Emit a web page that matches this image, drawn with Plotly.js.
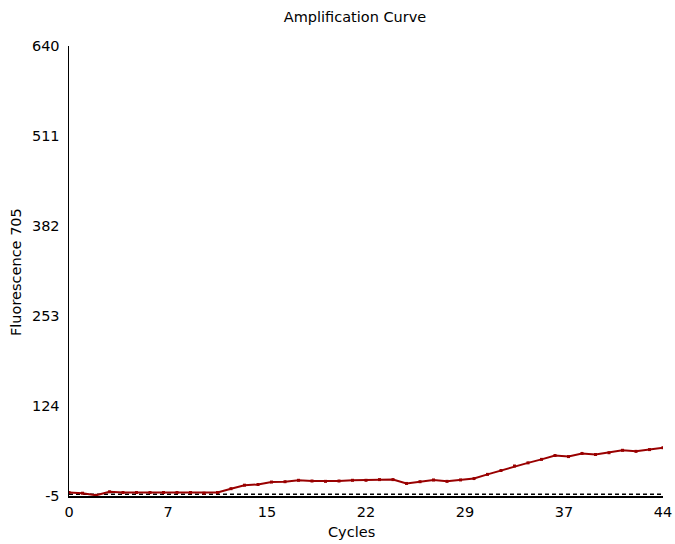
<!DOCTYPE html>
<html>
<head>
<meta charset="utf-8">
<script src="https://cdn.plot.ly/plotly-3.0.1.min.js"></script>
<style>html,body{margin:0;padding:0;background:#fff;}#chart{width:675px;height:544px;}</style>
</head>
<body>
<div id="chart"></div>
<script>
var cycles = [0,1,2,3,4,5,6,7,8,9,10,11,12,13,14,15,16,17,18,19,20,21,22,23,24,25,26,27,28,29,30,31,32,33,34,35,36,37,38,39,40,41,42,43,44];
var fluorescence = [0,-1,-4,1,0,0,0,0,0,0,-1,0,5.5,10.5,11.5,15,15.5,17.5,16.5,16,16.5,17.5,17.5,18.5,18.5,13,15.5,18,16,18,20,26,31.5,38,42.5,47.5,53,51.5,56,54.5,57,60.5,59,61.5,64];
var thresholdX = [0, 44];
var thresholdY = [-2.5, -2.5];
var xTickVals = [0, 7.3333, 14.6667, 22, 29.3333, 36.6667, 44];
var xTickText = ['0','7','15','22','29','37','44'];
var yTickVals = [-5, 124, 253, 382, 511, 640];
var yTickText = ['-5','124','253','382','511','640'];
var xRange = [0, 44];
var yRange = [-5, 640];

var fnt = {family: 'DejaVu Sans, Liberation Sans, sans-serif', size: 14.5, color: '#000'};

var traces = [
  {x: thresholdX, y: thresholdY, mode: 'lines', line: {color: '#000', width: 1.5, dash: '4px,3px'}, hoverinfo: 'skip', showlegend: false},
  {x: cycles, y: fluorescence, mode: 'lines+markers', line: {color: '#990000', width: 2}, marker: {symbol: 'square', size: 3, color: '#990000'}, showlegend: false}
];

var layout = {
  width: 675, height: 544,
  margin: {l: 69, r: 12, t: 46, b: 48},
  paper_bgcolor: '#fff', plot_bgcolor: '#fff',
  font: fnt,
  showlegend: false,
  title: {text: 'Amplification Curve', font: fnt, x: 0.526, xref: 'container', xanchor: 'center', y: 1 - 17/544, yref: 'container', yanchor: 'middle'},
  xaxis: {range: xRange, tickvals: xTickVals, ticktext: xTickText, showgrid: false, zeroline: false, showline: true, linecolor: '#000', linewidth: 1.5, ticks: '', ticklabelstandoff: 2, tickfont: fnt, fixedrange: true},
  yaxis: {range: yRange, tickvals: yTickVals, ticktext: yTickText, showgrid: false, zeroline: false, showline: true, linecolor: '#000', linewidth: 1.5, ticks: '', ticklabelstandoff: 5, tickfont: fnt, fixedrange: true},
  annotations: [
    {text: 'Cycles', xref: 'paper', yref: 'paper', x: (351-69)/594, y: -(532-496)/450, xanchor: 'center', yanchor: 'middle', showarrow: false, font: fnt},
    {text: 'Fluorescence 705', xref: 'paper', yref: 'paper', x: -(69-16)/594, y: (496-272)/450, xanchor: 'center', yanchor: 'middle', textangle: -90, showarrow: false, font: fnt}
  ],
  shapes: [
    {type: 'line', xref: 'x', yref: 'y', xsizemode: 'pixel', xanchor: xRange[0], x0: -5, x1: 0, y0: yRange[1], y1: yRange[1], line: {color: '#000', width: 1.5}},
    {type: 'line', xref: 'x', yref: 'y', xsizemode: 'pixel', xanchor: xRange[0], x0: -5, x1: 0, y0: yRange[0], y1: yRange[0], line: {color: '#000', width: 1.5}},
    {type: 'line', xref: 'x', yref: 'y', ysizemode: 'pixel', yanchor: yRange[0], y0: -5, y1: 0, x0: xRange[0], x1: xRange[0], line: {color: '#000', width: 1.5}},
    {type: 'line', xref: 'x', yref: 'y', ysizemode: 'pixel', yanchor: yRange[0], y0: -6, y1: 0, x0: xRange[1], x1: xRange[1], line: {color: '#000', width: 1.5}}
  ]
};

Plotly.newPlot('chart', traces, layout, {displayModeBar: false, staticPlot: true});
</script>
</body>
</html>
